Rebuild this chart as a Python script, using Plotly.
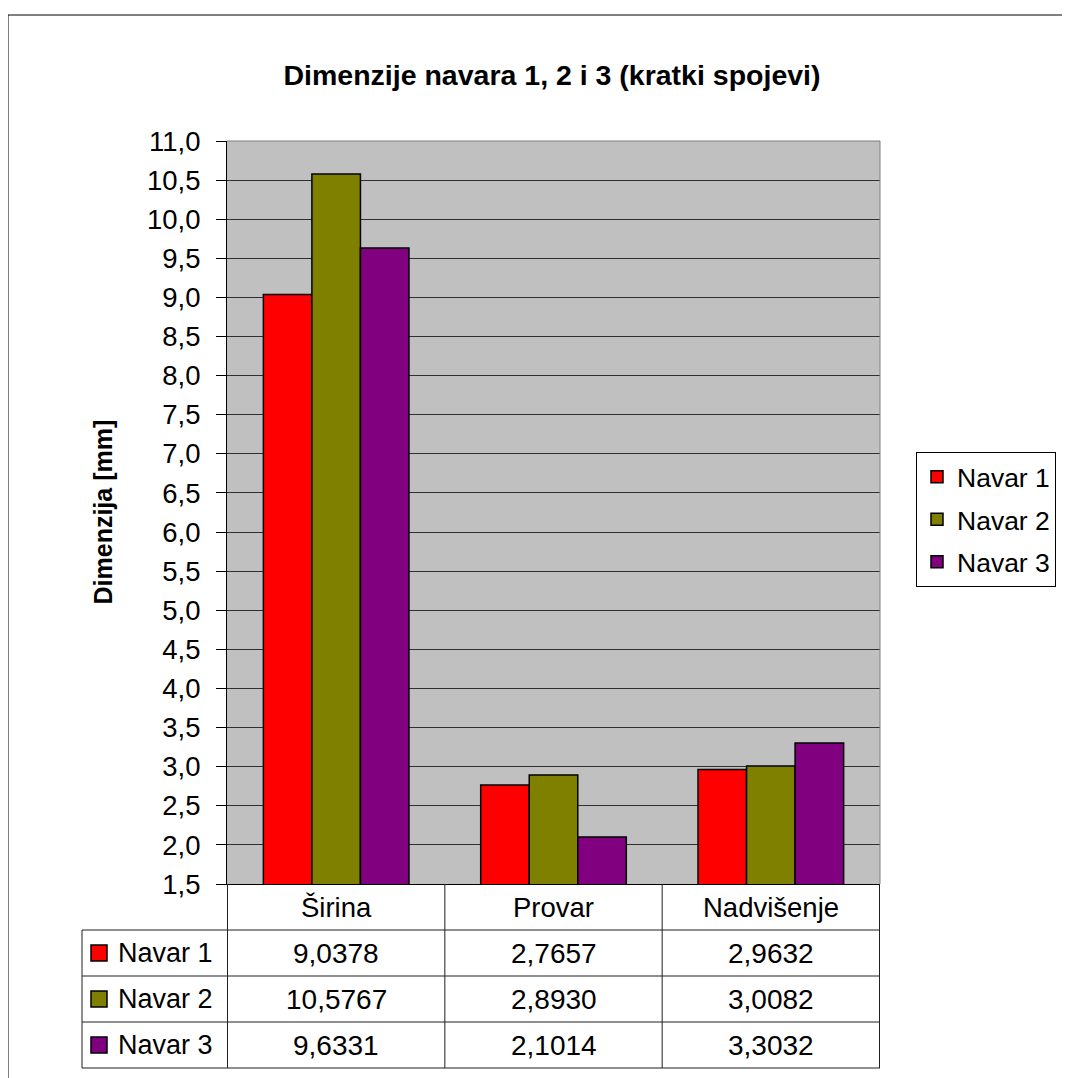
import plotly.graph_objects as go

# data
categories = ["Širina", "Provar", "Nadvišenje"]
series_names = ["Navar 1", "Navar 2", "Navar 3"]
navar_1 = [9.0378, 2.7657, 2.9632]
navar_2 = [10.5767, 2.8930, 3.0082]
navar_3 = [9.6331, 2.1014, 3.3032]
series_colors = ["#FF0000", "#808000", "#800080"]

W, H = 1070, 1078
OFF = 8  # page body margin
FONT = "Liberation Sans, Arial, sans-serif"


def px_x(x):
    return (x - OFF) / W


def px_y(y):
    return 1 - (y - OFF) / H


# plot area in pixels
left, right, top, bottom = 227, 880, 141, 884
row_h = 46
label_left = 82

fig = go.Figure()

for name, vals, col in zip(series_names, [navar_1, navar_2, navar_3], series_colors):
    fig.add_trace(go.Bar(
        x=categories,
        y=vals,
        name=name,
        legendgroup=name,
        marker=dict(color=col, line=dict(color="black", width=1.5)),
    ))

fig.update_layout(
    width=W,
    height=H,
    margin=dict(l=0, r=0, t=0, b=0, autoexpand=False),
    paper_bgcolor="white",
    plot_bgcolor="#C0C0C0",
    barmode="group",
    bargap=0.33,
    bargroupgap=0,
    separators=",.",
    font=dict(family=FONT, size=26, color="black"),
    title=dict(
        text="Dimenzije navara 1, 2 i 3 (kratki spojevi)",
        x=px_x(552), y=px_y(75), xanchor="center", yanchor="middle",
        font=dict(family=FONT, size=28.5, weight="bold", color="black"),
    ),
    legend=dict(
        x=px_x(916), y=px_y(452), xanchor="left", yanchor="top",
        bgcolor="white", bordercolor="black", borderwidth=1,
        font=dict(family=FONT, size=26.5),
        tracegroupgap=5,
    ),
    xaxis=dict(
        domain=[px_x(left), px_x(right)],
        showticklabels=False,
        ticks="",
        showline=True, linecolor="black", linewidth=1,
        showgrid=False,
        automargin=False,
        fixedrange=True,
    ),
    yaxis=dict(
        domain=[px_y(bottom), px_y(top)],
        range=[1.5, 11.0],
        tick0=1.5, dtick=0.5,
        tickformat=".1f",
        ticks="outside", ticklen=10, tickcolor="black",
        ticklabelstandoff=10,
        showline=True, linecolor="black", linewidth=1,
        showgrid=True, gridcolor="#303030", gridwidth=1,
        tickfont=dict(family=FONT, size=27.5),
        zeroline=False,
        automargin=False,
    ),
)

shapes = []
annotations = []

# plot area border (top and right)
shapes.append(dict(type="line", xref="x domain", yref="y domain", x0=0, x1=1, y0=1, y1=1,
                   line=dict(color="#808080", width=1)))
shapes.append(dict(type="line", xref="x domain", yref="y domain", x0=1, x1=1, y0=0, y1=1,
                   line=dict(color="#808080", width=1)))

# outer chart border
shapes.append(dict(type="rect", xref="paper", yref="paper",
                   x0=px_x(8), x1=px_x(W + 40), y0=px_y(H + 40), y1=px_y(15),
                   line=dict(color="black", width=1)))

# y-axis title
annotations.append(dict(
    text="Dimenzija [mm]", xref="paper", yref="paper",
    x=px_x(103), y=px_y((top + bottom) / 2), textangle=-90,
    showarrow=False, xanchor="center", yanchor="middle",
    font=dict(family=FONT, size=25, weight="bold"),
))

# data table
n_rows = len(series_names)
table_bottom = bottom + row_h * (n_rows + 1)
line_style = dict(color="#202020", width=1)

# vertical column boundaries
for i in range(len(categories) + 1):
    shapes.append(dict(type="line", xref="x", yref="paper",
                       x0=i - 0.5, x1=i - 0.5, y0=px_y(bottom), y1=px_y(table_bottom),
                       line=line_style))
shapes.append(dict(type="line", xref="paper", yref="paper",
                   x0=px_x(label_left), x1=px_x(label_left),
                   y0=px_y(bottom + row_h), y1=px_y(table_bottom), line=line_style))

# horizontal row boundaries
for k in range(1, n_rows + 2):
    yk = px_y(bottom + k * row_h)
    shapes.append(dict(type="line", xref="paper", yref="paper",
                       x0=px_x(label_left), x1=px_x(right), y0=yk, y1=yk, line=line_style))

# category header
for i, cat in enumerate(categories):
    annotations.append(dict(text=cat, xref="x", yref="paper", x=i,
                            y=px_y(bottom + row_h / 2), showarrow=False,
                            xanchor="center", yanchor="middle",
                            font=dict(family=FONT, size=27.5)))

# rows
for r, (name, vals, col) in enumerate(zip(series_names, [navar_1, navar_2, navar_3], series_colors)):
    yc = bottom + row_h * (r + 1.5)
    shapes.append(dict(type="rect", xref="paper", yref="paper",
                       x0=px_x(91), x1=px_x(107), y0=px_y(yc + 8), y1=px_y(yc - 8),
                       fillcolor=col, line=dict(color="black", width=1.5)))
    annotations.append(dict(text=name, xref="paper", yref="paper", x=px_x(116),
                            y=px_y(yc), showarrow=False, xanchor="left", yanchor="middle",
                            font=dict(family=FONT, size=27)))
    for i, v in enumerate(vals):
        annotations.append(dict(text=f"{v:.4f}".replace(".", ","), xref="x", yref="paper",
                                x=i, y=px_y(yc), showarrow=False,
                                xanchor="center", yanchor="middle",
                                font=dict(family=FONT, size=28)))

fig.update_layout(shapes=shapes, annotations=annotations)

fig.write_html("out.html")
